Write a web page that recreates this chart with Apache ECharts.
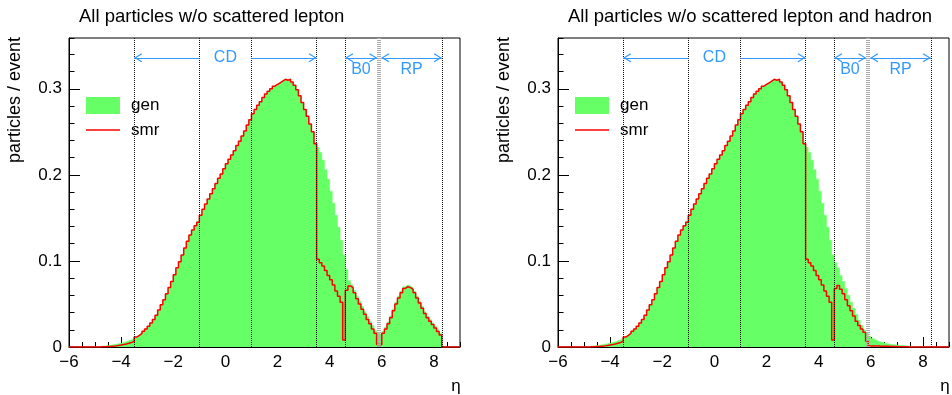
<!DOCTYPE html>
<html><head><meta charset="utf-8">
<script src="https://cdn.jsdelivr.net/npm/echarts@6/dist/echarts.min.js"></script>
<style>html,body{margin:0;padding:0;background:#fff}#c{width:952px;height:395px}</style>
</head><body><div id="c"></div>
<script>
// ---- binning (eta) ----
const binLow = -6, binWidth = 0.1, etaMax = 9;
const xTickLabels = ['\u22126', '\u22124', '\u22122', '0', '2', '4', '6', '8'];
const yTickLabels = ['0', '0.1', '0.2', '0.3'];

// ---- panel 1: all particles w/o scattered lepton ----
const genLeft = [
  0,0,0,0,0,0,0,0,0.0002,0.0003,
  0.0005,0.0007,0.001,0.0013,0.0017,0.0021,0.0026,0.0032,0.0038,0.0045,
  0.0053,0.0062,0.0072,0.0085,0.0100,0.0118,0.0136,0.0158,0.0183,0.021,
  0.024,0.028,0.032,0.037,0.043,0.049,0.055,0.062,0.069,0.076,
  0.084,0.092,0.099,0.107,0.115,0.123,0.130,0.136,0.141,0.146,
  0.153,0.160,0.166,0.172,0.178,0.184,0.190,0.196,0.201,0.207,
  0.213,0.218,0.223,0.228,0.234,0.239,0.245,0.251,0.258,0.264,
  0.271,0.276,0.281,0.285,0.290,0.294,0.297,0.300,0.303,0.305,
  0.307,0.309,0.311,0.310,0.311,0.308,0.304,0.299,0.292,0.284,
  0.276,0.268,0.259,0.250,0.238,0.232,0.226,0.217,0.206,0.195,
  0.181,0.167,0.153,0.139,0.124,0.107,0.090,0.077,0.072,0.066,
  0.059,0.053,0.047,0.041,0.035,0.030,0.025,0.019,0.016,0.014,
  0.018,0.023,0.029,0.036,0.044,0.052,0.059,0.065,0.070,0.072,
  0.071,0.069,0.065,0.059,0.053,0.047,0.041,0.036,0.032,0.028,
  0.024,0.020,0.016,0,0,0,0,0,0,0
];
const smrLeft = [
  0,0,0,0,0,0,0,0,0,0,
  0,0,0.0002,0.0003,0.0005,0.0007,0.001,0.0013,0.0017,0.0022,
  0.0028,0.0035,0.0043,0.0052,0.0065,0.0115,0.0135,0.0158,0.0183,0.021,
  0.024,0.028,0.032,0.037,0.043,0.049,0.055,0.062,0.069,0.076,
  0.084,0.092,0.099,0.107,0.115,0.123,0.130,0.136,0.141,0.145,
  0.153,0.160,0.166,0.172,0.178,0.184,0.190,0.196,0.201,0.207,
  0.213,0.218,0.223,0.228,0.234,0.239,0.245,0.251,0.258,0.264,
  0.271,0.276,0.281,0.285,0.290,0.294,0.297,0.300,0.303,0.305,
  0.307,0.309,0.311,0.310,0.311,0.308,0.304,0.299,0.292,0.284,
  0.276,0.268,0.259,0.250,0.236,0.102,0.098,0.094,0.089,0.083,
  0.078,0.072,0.065,0.059,0.052,0.008,0.066,0.071,0.069,0.063,
  0.056,0.050,0.044,0.038,0.032,0.027,0.021,0.016,0.003,0.0025,
  0.016,0.021,0.027,0.034,0.042,0.050,0.057,0.063,0.068,0.070,
  0.069,0.067,0.063,0.057,0.051,0.045,0.039,0.034,0.030,0.026,
  0.022,0.018,0.014,0,0,0,0,0,0,0
];

// ---- panel 2: all particles w/o scattered lepton and hadron ----
const genRight = [
  0,0,0,0,0,0,0,0,0.0002,0.0003,
  0.0005,0.0007,0.001,0.0013,0.0017,0.0021,0.0026,0.0032,0.0038,0.0045,
  0.0053,0.0062,0.0072,0.0085,0.0100,0.0118,0.0136,0.0158,0.0183,0.021,
  0.024,0.028,0.032,0.037,0.043,0.049,0.055,0.062,0.069,0.076,
  0.084,0.092,0.099,0.107,0.115,0.123,0.130,0.136,0.141,0.146,
  0.153,0.160,0.166,0.172,0.178,0.184,0.190,0.196,0.201,0.207,
  0.213,0.218,0.223,0.228,0.234,0.239,0.245,0.251,0.258,0.264,
  0.271,0.276,0.281,0.285,0.290,0.294,0.297,0.300,0.303,0.305,
  0.307,0.309,0.311,0.310,0.311,0.308,0.304,0.299,0.292,0.284,
  0.276,0.268,0.259,0.250,0.238,0.232,0.226,0.217,0.206,0.195,
  0.181,0.167,0.153,0.139,0.124,0.107,0.098,0.092,0.083,0.076,
  0.068,0.060,0.052,0.045,0.038,0.031,0.025,0.020,0.016,0.0125,
  0.0100,0.0082,0.0068,0.0057,0.0048,0.0041,0.0035,0.0030,0.0026,0.0023,
  0.0020,0.0017,0.0014,0.0012,0.0010,0.0008,0.0007,0.0005,0.0004,0.0003,
  0.0002,0,0,0,0,0,0,0,0,0
];
const smrRight = [
  0,0,0,0,0,0,0,0,0,0,
  0,0,0.0002,0.0003,0.0005,0.0007,0.001,0.0013,0.0017,0.0022,
  0.0028,0.0035,0.0043,0.0052,0.0065,0.0115,0.0135,0.0158,0.0183,0.021,
  0.024,0.028,0.032,0.037,0.043,0.049,0.055,0.062,0.069,0.076,
  0.084,0.092,0.099,0.107,0.115,0.123,0.130,0.136,0.141,0.145,
  0.153,0.160,0.166,0.172,0.178,0.184,0.190,0.196,0.201,0.207,
  0.213,0.218,0.223,0.228,0.234,0.239,0.245,0.251,0.258,0.264,
  0.271,0.276,0.281,0.285,0.290,0.294,0.297,0.300,0.303,0.305,
  0.307,0.309,0.311,0.310,0.311,0.308,0.304,0.299,0.292,0.284,
  0.276,0.268,0.259,0.250,0.236,0.102,0.098,0.094,0.089,0.083,
  0.078,0.072,0.065,0.059,0.052,0.008,0.068,0.0715,0.067,0.062,
  0.055,0.048,0.042,0.036,0.030,0.025,0.021,0.017,0.007,0.0012,
  0.0012,0.0012,0.0011,0.0010,0.0010,0.0009,0.0008,0.0007,0.0006,0.0005,
  0.0004,0.0003,0.0002,0.0002,0.0001,0.0001,0,0,0,0,
  0,0,0,0,0,0,0,0,0,0
];

// ---- detector regions (eta) ----
const boundaryEta = [-3.5, -1, 1, 3.5, 4.6, 8.3];
const beamPipeEta = 5.9;
const arrowSegments = [ // [from, to, heads]
  [-3.5, -1, 'start'], [1, 3.5, 'end'], [4.6, 5.82, 'both'], [5.98, 8.3, 'both']
];
const regionLabels = [ // [name, eta, row]
  ['CD', 0, 0], ['B0', 5.2, 1], ['RP', 7.14, 1]
];
const arrowY = 0.336, labelRowY = [0.336, 0.3218];

const titles = ['All particles w/o scattered lepton', 'All particles w/o scattered lepton and hadron'];

// ---- build ----
function toSteps(vals) {
  const pts = vals.map((v, i) => [+(binLow + i * binWidth).toFixed(2), v]);
  pts.push([etaMax, vals[vals.length - 1]]);
  return pts;
}
const FONT = '"Liberation Sans", Arial, Helvetica, sans-serif';
const GREEN = '#66ff66', RED = '#ff0000', BLUE = '#3399ff';
// open chevron with its tip at the centre of the symbol box (points "up" = outward)
const chevron = 'path://M5,-8.8 L5,-8.8 Z M5,0 L10,8 L8.9,8.8 L5,2.4 L1.1,8.8 L0,8 Z';
const smrIcon = 'path://M0,0 L34,0 L34,1.5 L0,1.5 Z';

const panels = [
  { left: 69, gen: genLeft, smr: smrLeft },
  { left: 558, gen: genRight, smr: smrRight }
];

const grid = [], xAxis = [], yAxis = [], series = [], legend = [], graphic = [];
panels.forEach((p, k) => {
  grid.push({ left: p.left, top: 38, width: 391, height: 309, show: true,
    borderColor: '#000', borderWidth: 1, backgroundColor: 'transparent' });
  const xa = 2 * k, ya = 2 * k;
  xAxis.push({ gridIndex: k, type: 'value', min: -6, max: etaMax, interval: 2, position: 'bottom',
    axisLine: { show: true, onZero: false, lineStyle: { color: '#000', width: 1 } },
    axisTick: { show: true, inside: true, length: 10, lineStyle: { color: '#000', width: 1 } },
    axisLabel: { show: true, margin: 7, fontSize: 17, color: '#000', fontFamily: FONT, showMaxLabel: false,
      formatter: v => { const i = Math.round((v + 6) / 2); return Math.abs((v + 6) / 2 - i) < 1e-6 && xTickLabels[i] !== undefined ? xTickLabels[i] : ''; } },
    splitLine: { show: false } });
  xAxis.push({ gridIndex: k, type: 'value', min: -6, max: etaMax, interval: 0.5, position: 'bottom', offset: 0,
    axisLine: { show: false, onZero: false }, axisLabel: { show: false }, splitLine: { show: false },
    axisTick: { show: true, inside: true, length: 5, lineStyle: { color: '#000', width: 1 } } });
  yAxis.push({ gridIndex: k, type: 'value', min: 0, max: 0.359, interval: 0.1, position: 'left',
    axisLine: { show: true, onZero: false, lineStyle: { color: '#000', width: 1 } },
    axisTick: { show: true, inside: true, length: 11, lineStyle: { color: '#000', width: 1 } },
    axisLabel: { show: true, margin: 7, fontSize: 17, color: '#000', fontFamily: FONT, showMaxLabel: false,
      formatter: v => { const i = Math.round(v * 10); return Math.abs(v * 10 - i) < 1e-6 && yTickLabels[i] !== undefined ? yTickLabels[i] : ''; } },
    splitLine: { show: false } });
  yAxis.push({ gridIndex: k, type: 'value', min: 0, max: 0.359, interval: 0.02, position: 'left', offset: 0,
    axisLine: { show: false, onZero: false }, axisLabel: { show: false }, splitLine: { show: false },
    axisTick: { show: true, inside: true, length: 5.5, lineStyle: { color: '#000', width: 1 } } });

  series.push({ type: 'line', name: 'gen', xAxisIndex: xa, yAxisIndex: ya, step: 'end', symbol: 'none',
    data: toSteps(p.gen), z: 2,
    lineStyle: { color: GREEN, width: 0.5 }, itemStyle: { color: GREEN },
    areaStyle: { color: GREEN, opacity: 1 } });
  series.push({ type: 'line', name: 'smr', xAxisIndex: xa, yAxisIndex: ya, step: 'end', symbol: 'none',
    data: toSteps(p.smr), z: 4,
    lineStyle: { color: RED, width: 1.5 }, itemStyle: { color: RED },
    markLine: { silent: true, symbol: ['none', 'none'], label: { show: false },
      lineStyle: { color: '#111', width: 1, type: [1, 1] },
      data: boundaryEta.map(e => ({ xAxis: e }))
        .concat([{ xAxis: beamPipeEta, lineStyle: { color: '#aaaaaa', width: 4, type: [1, 1] } }]) } });
  series.push({ type: 'line', name: 'regions', xAxisIndex: xa, yAxisIndex: ya, data: [], z: 5,
    markLine: { silent: true, symbol: ['none', 'none'], label: { show: false },
      lineStyle: { color: BLUE, width: 1.2, type: 'solid' },
      data: arrowSegments.map(s => [
        { coord: [s[0], arrowY], symbol: (s[2] === 'start' || s[2] === 'both') ? chevron : 'none', symbolSize: [9, 16] },
        { coord: [s[1], arrowY], symbol: (s[2] === 'end' || s[2] === 'both') ? chevron : 'none', symbolSize: [9, 16] }
      ]) },
    markPoint: { silent: true, symbol: 'circle', symbolSize: 1, itemStyle: { color: 'rgba(0,0,0,0)' },
      label: { show: true, position: 'inside', formatter: '{b}', color: BLUE, fontSize: 16, fontFamily: FONT },
      data: regionLabels.map(r => ({ name: r[0], coord: [r[1], labelRowY[r[2]]] })) } });

  legend.push({ left: p.left + 17, top: 97, orient: 'vertical', itemWidth: 34, itemHeight: 17, itemGap: 7.5,
    selectedMode: false, padding: 0,
    data: [{ name: 'gen', icon: 'rect' }, { name: 'smr', icon: smrIcon }],
    textStyle: { fontSize: 17, color: '#000', fontFamily: FONT, padding: [0, 0, 0, 6] } });

  graphic.push({ type: 'text', x: p.left + 10, y: 17,
    style: { text: titles[k], fontSize: 18.5, fontFamily: FONT, fill: '#000', align: 'left', verticalAlign: 'middle' } });
  graphic.push({ type: 'text', x: p.left - 54, y: 37, rotation: Math.PI / 2,
    style: { text: 'particles / event', fontSize: 18, fontFamily: FONT, fill: '#000', align: 'right', verticalAlign: 'middle' } });
  graphic.push({ type: 'text', x: p.left + 387, y: 386,
    style: { text: '\u03b7', fontSize: 17, fontFamily: FONT, fill: '#000', align: 'center', verticalAlign: 'middle' } });
});

const chart = echarts.init(document.getElementById('c'), null, { renderer: 'canvas' });
chart.setOption({
  animation: false,
  backgroundColor: '#fff',
  textStyle: { fontFamily: FONT },
  grid, xAxis, yAxis, series, legend, graphic
});
</script>
</body></html>
